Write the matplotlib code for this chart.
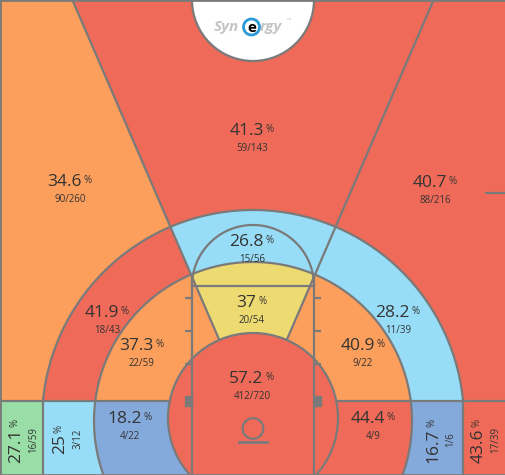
import numpy as np
import matplotlib.pyplot as plt
from matplotlib.patches import Polygon, Circle, Rectangle

plt.rcParams['font.family'] = ['Open Sans', 'DejaVu Sans']

# shooting by zone, outer zones first so inner ones paint over them
zones = ['wing3_l', 'top3', 'wing3_r', 'corner3_l', 'corner3_r',
         'long_wing_l', 'long_top', 'long_wing_r', 'long_base_l', 'long_base_r',
         'mid_wing_l', 'mid_top', 'mid_wing_r', 'mid_base_l', 'mid_base_r',
         'paint']
made = [90, 59, 88, 16, 17, 18, 15, 11, 3, 1, 22, 20, 9, 4, 4, 412]
att = [260, 143, 216, 59, 39, 43, 56, 39, 12, 6, 59, 54, 22, 22, 9, 720]
rating = ['warm', 'hot', 'hot', 'green', 'hot',
          'hot', 'cool', 'cool', 'cool', 'cold',
          'warm', 'avg', 'warm', 'cold', 'hot',
          'hot']
pct = [round(100 * m / a, 1) for m, a in zip(made, att)]

palette = {'hot': '#EF6A58', 'warm': '#FD9F5C', 'avg': '#EDDB72',
           'cool': '#98DDF7', 'cold': '#84A9DB', 'green': '#98DEA6'}

# label centres (pixels) and whether the label is turned upright
label_xy = [(70, 191), (252, 140), (435, 192), (25, 440), (487, 440),
            (107, 322), (252, 251), (398, 322), (69, 439), (442, 440),
            (142, 355), (252, 312), (363, 355), (130, 428), (373, 428),
            (252, 388)]
upright = [False, False, False, True, True,
           False, False, False, True, True,
           False, False, False, False, False,
           False]

W, H = 506, 475
CX = 253
ARC_CY, R3, RMID = 421, 211, 159
PAINT_CY, RPAINT = 418, 85
CORNER_Y = 401
LANE = 61
FT_Y = 286
TAN = 0.432
LINE = '#7A7A7A'
TXT = '#333333'

phi = np.arctan(TAN)


def arc(cx, cy, r, t0, t1, n=120):
    t = np.radians(np.linspace(t0, t1, n))
    return np.column_stack([cx + r * np.sin(t), cy - r * np.cos(t)])


def mirror(pts):
    pts = np.asarray(pts, float)
    return np.column_stack([2 * CX - pts[:, 0], pts[:, 1]])


def radial_hit(r):
    # angle on an arc (centre ARC_CY) where the left wing line crosses it
    off = ARC_CY - PAINT_CY
    s = -off * np.cos(phi) + np.sqrt((off * np.cos(phi)) ** 2 - off ** 2 + r ** 2)
    px = CX - s * np.sin(phi)
    py = PAINT_CY - s * np.cos(phi)
    return np.degrees(np.arctan2(px - CX, ARC_CY - py))


def corner_angle(r):
    return np.degrees(np.arccos((ARC_CY - CORNER_Y) / r))


a3, am = radial_hit(R3), radial_hit(RMID)
c3, cm = corner_angle(R3), corner_angle(RMID)
t_bot = np.degrees(np.arccos((ARC_CY - H) / RMID))
CORNER_X = CX - np.sqrt(R3 ** 2 - (ARC_CY - CORNER_Y) ** 2)
P0 = (CX, PAINT_CY)
top_l = (CX - PAINT_CY * TAN, 0)
top_r = (CX + PAINT_CY * TAN, 0)

shapes = {}
shapes['wing3_l'] = [(0, 0), top_l, P0, (CX, CORNER_Y), (0, CORNER_Y)]
shapes['top3'] = [top_l, top_r, P0]
shapes['corner3_l'] = [(0, CORNER_Y), (CORNER_X, CORNER_Y), (CORNER_X, H), (0, H)]
shapes['long_wing_l'] = list(arc(CX, ARC_CY, R3, a3, -c3)) + [(CX, CORNER_Y), P0]
shapes['long_top'] = list(arc(CX, ARC_CY, R3, a3, -a3)) + [P0]
shapes['long_base_l'] = [(CORNER_X, CORNER_Y), (CORNER_X, H), (CX, H), (CX, CORNER_Y)]
shapes['mid_wing_l'] = list(arc(CX, ARC_CY, RMID, am, -cm)) + [(CX, CORNER_Y), P0]
shapes['mid_top'] = list(arc(CX, ARC_CY, RMID, am, -am)) + [P0]
shapes['mid_base_l'] = list(arc(CX, ARC_CY, RMID, -cm, -t_bot)) + [(CX, H), (CX, CORNER_Y)]
for name in ['wing3', 'corner3', 'long_wing', 'long_base', 'mid_wing', 'mid_base']:
    shapes[name + '_r'] = mirror(shapes[name + '_l'])

fig = plt.figure(figsize=(W / 100, H / 100), dpi=100)
ax = fig.add_axes([0, 0, 1, 1])
ax.set_xlim(0, W)
ax.set_ylim(H, 0)
ax.axis('off')

for name, key in zip(zones, rating):
    if name == 'paint':
        ax.add_patch(Circle(P0, RPAINT, facecolor=palette[key], edgecolor='none', zorder=1))
    else:
        ax.add_patch(Polygon(np.asarray(shapes[name], float), closed=True,
                             facecolor=palette[key], edgecolor='none', zorder=1))

# court lines
lw = 1.6
kw = dict(color=LINE, lw=lw, zorder=3, solid_capstyle='butt')
outer = arc(CX, ARC_CY, R3, -c3, c3)
ax.plot(outer[:, 0], outer[:, 1], **kw)
for x in (CORNER_X, 2 * CX - CORNER_X):
    ax.plot([x, x], [CORNER_Y, H], **kw)
mid = arc(CX, ARC_CY, RMID, -t_bot, t_bot)
ax.plot(mid[:, 0], mid[:, 1], **kw)
ax.add_patch(Circle(P0, RPAINT, facecolor='none', edgecolor=LINE, lw=lw, zorder=3))

dx_paint = np.sqrt(RPAINT ** 2 - (PAINT_CY - CORNER_Y) ** 2)
ax.plot([0, CX - dx_paint], [CORNER_Y, CORNER_Y], **kw)
ax.plot([CX + dx_paint, W], [CORNER_Y, CORNER_Y], **kw)

for sgn, top in ((-1, top_l), (1, top_r)):
    start = (CX + sgn * RPAINT * np.sin(phi), PAINT_CY - RPAINT * np.cos(phi))
    ax.plot([start[0], top[0]], [start[1], top[1]], **kw)

lane_top = ARC_CY - np.sqrt(RMID ** 2 - LANE ** 2)
for sgn in (-1, 1):
    x = CX + sgn * LANE
    ax.plot([x, x], [lane_top, H], **kw)
    for y in (298, 331, 364):
        ax.plot([x, x + sgn * 7], [y, y], **kw)
    ax.add_patch(Rectangle((min(x, x + sgn * 7), 396), 7, 10, color=LINE, zorder=3))
ax.plot([CX - LANE, CX + LANE], [FT_Y, FT_Y], **kw)
ft = arc(CX, FT_Y, LANE, -90, 90)
ax.plot(ft[:, 0], ft[:, 1], **kw)

# rim and backboard
ax.add_patch(Circle((CX, 428.5), 10.3, facecolor='none', edgecolor=LINE, lw=lw, zorder=3))
ax.plot([239, 267], [441.7, 441.7], color=LINE, lw=2, zorder=3)

ax.plot([485, W], [193, 193], **kw)

# centre circle with logo
ax.add_patch(Circle((CX, 0), LANE, facecolor='white', edgecolor=LINE, lw=lw, zorder=3))
ax.text(239, 27, 'Syn', fontsize=11, fontstyle='italic', fontweight='bold',
        color='#C4C4C4', ha='right', va='center', zorder=4)
ax.add_patch(Circle((251.5, 27), 8, facecolor='white', edgecolor='#2A9AD8', lw=2, zorder=4))
ax.text(251.5, 27.5, 'e', fontsize=11, fontweight='bold', color='black',
        ha='center', va='center', zorder=5)
ax.text(260, 27, 'rgy', fontsize=11, fontstyle='italic', fontweight='bold',
        color='#C4C4C4', ha='left', va='center', zorder=4)
ax.text(287, 21, '™', fontsize=4, color='#C4C4C4', ha='left', va='center', zorder=4)

ax.add_patch(Rectangle((0, 0), W, H, facecolor='none', edgecolor=LINE, lw=2, zorder=6))

# zone labels
NUM_FS, SUB_FS = 12.5, 7
for p, m, a, (x, y), up in zip(pct, made, att, label_xy, upright):
    num = f'{p:g}'
    frac = f'{m}/{a}'
    if up:
        t = ax.text(x - 8.75, y + 5.5, num, fontsize=NUM_FS, color=TXT, rotation=90,
                    ha='center', va='center', zorder=7)
        ax.annotate('%', xy=(0.4, 1), xycoords=t, xytext=(0, 1), textcoords='offset points',
                    fontsize=SUB_FS, color=TXT, rotation=90, ha='center', va='bottom', zorder=7)
        ax.text(x + 8.75, y, frac, fontsize=SUB_FS, color=TXT, rotation=90,
                ha='center', va='center', zorder=7)
    else:
        t = ax.text(x - 5.5, y - 8.8, num, fontsize=NUM_FS, color=TXT,
                    ha='center', va='center', zorder=7)
        ax.annotate('%', xy=(1, 0.6), xycoords=t, xytext=(1.5, 0), textcoords='offset points',
                    fontsize=SUB_FS, color=TXT, ha='left', va='center', zorder=7)
        ax.text(x, y + 8.8, frac, fontsize=SUB_FS, color=TXT,
                ha='center', va='center', zorder=7)

fig.savefig('out.png', dpi=100)
